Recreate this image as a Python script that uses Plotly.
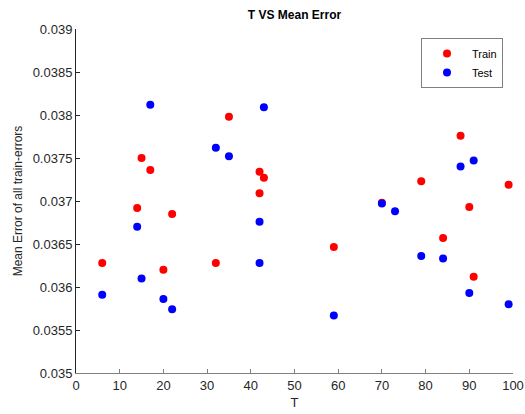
import plotly.graph_objects as go

train_T = [6, 14, 15, 17, 20, 22, 32, 35, 42, 42, 43, 59, 70, 79, 84, 88, 90, 91, 99]
train_err = [0.03628, 0.03692, 0.03750, 0.03736, 0.03620, 0.03685, 0.03628, 0.03798,
             0.03734, 0.03709, 0.03727, 0.036465, 0.03698, 0.03723, 0.03657, 0.03776,
             0.03693, 0.03612, 0.03719]
test_T = [6, 14, 15, 17, 20, 22, 32, 35, 42, 42, 43, 59, 70, 73, 79, 84, 88, 90, 91, 99]
test_err = [0.03591, 0.03670, 0.03610, 0.03812, 0.03586, 0.03574, 0.03762, 0.03752,
            0.03676, 0.03628, 0.03809, 0.03567, 0.03697, 0.03688, 0.03636, 0.03633,
            0.03740, 0.03593, 0.03747, 0.03580]

y_ticks = [0.035, 0.0355, 0.036, 0.0365, 0.037, 0.0375, 0.038, 0.0385, 0.039]
y_labels = ["0.035", "0.0355", "0.036", "0.0365", "0.037", "0.0375", "0.038", "0.0385", "0.039"]
x_ticks = [0, 10, 20, 30, 40, 50, 60, 70, 80, 90, 100]

FONT = "Liberation Sans, Arial, sans-serif"

fig = go.Figure()
fig.add_trace(go.Scatter(x=train_T, y=train_err, mode="markers", name="Train",
                         marker=dict(color="#ff0000", size=8)))
fig.add_trace(go.Scatter(x=test_T, y=test_err, mode="markers", name="Test",
                         marker=dict(color="#0000ff", size=8)))

axis_common = dict(showgrid=False, zeroline=False, showline=True,
                   linewidth=1, ticks="inside", ticklen=4,
                   automargin=False,
                   tickfont=dict(family=FONT, size=13, color="#262626"))

fig.update_layout(
    width=525, height=414,
    margin=dict(l=76, r=12, t=29, b=41),
    paper_bgcolor="white", plot_bgcolor="white",
    title=dict(text="<b>T VS Mean Error</b>", x=(76 + 513) / 2 / 525, xanchor="center",
               y=1 - 15 / 414, yanchor="middle",
               font=dict(family=FONT, size=12, color="black")),
    xaxis=dict(range=[0, 100], tickvals=x_ticks, linecolor="#808080", tickcolor="#808080",
               title=dict(text="T", font=dict(family=FONT, size=13, color="#262626"), standoff=6),
               **axis_common),
    yaxis=dict(range=[0.035, 0.039], tickvals=y_ticks, ticktext=y_labels,
               linecolor="#262626", tickcolor="#262626",
               title=dict(text="Mean Error of all train-errors",
                          font=dict(family=FONT, size=12, color="#262626"), standoff=7),
               **axis_common),
    legend=dict(x=(503 - 76) / (513 - 76), y=(373 - 38) / (373 - 29), xanchor="right", yanchor="top",
                bordercolor="#808080", borderwidth=1, bgcolor="white",
                font=dict(family=FONT, size=11, color="black"),
                itemwidth=40, tracegroupgap=0),
    showlegend=True,
)

fig.write_html("out.html")
